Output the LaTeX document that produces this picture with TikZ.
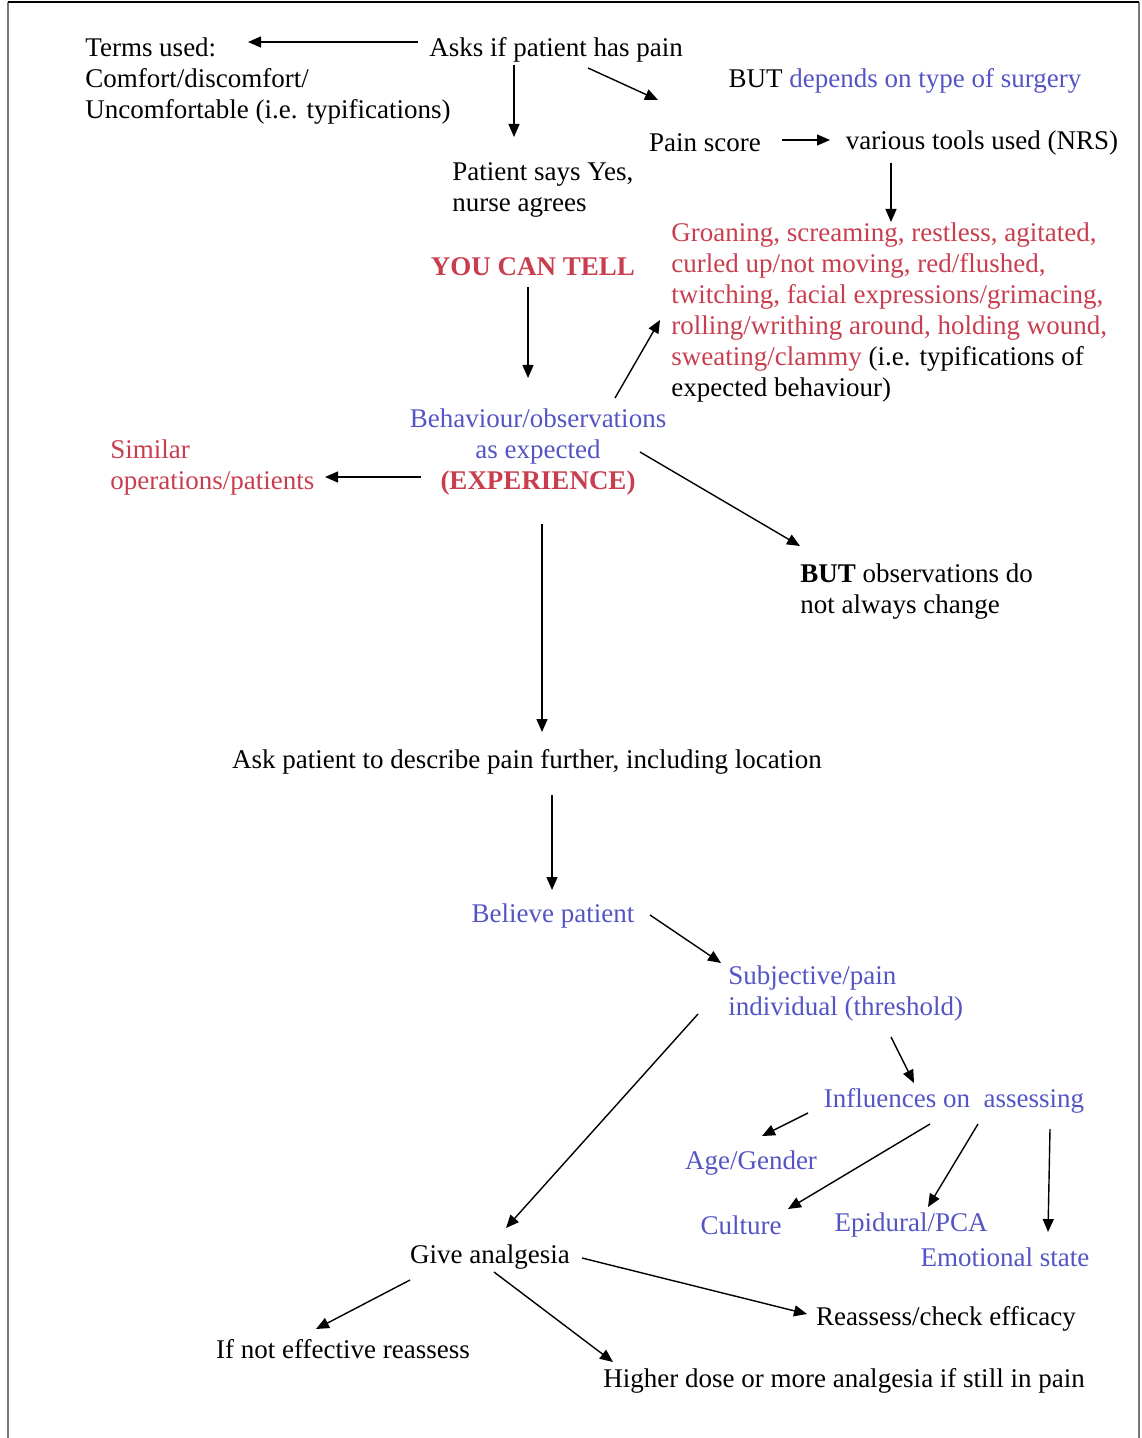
\documentclass[tikz,border=0pt]{standalone}
\usepackage{fontspec}
\setmainfont{Liberation Serif}
\usetikzlibrary{calc,arrows.meta}
\definecolor{noteBlue}{RGB}{84,84,196}
\definecolor{noteRed}{RGB}{200,62,78}
\definecolor{frameGrey}{RGB}{120,120,120}
\tikzset{
  txt/.style={inner sep=0pt,font=\fontsize{13.5}{15.5}\selectfont},
  bluetxt/.style={txt,text=noteBlue},
  redtxt/.style={txt,text=noteRed},
  arr/.style={line width=0.7pt,-{Triangle[length=6.5pt,width=5.5pt]}}
}
\begin{document}
\begin{tikzpicture}[x=0.5pt,y=-0.5pt]
\useasboundingbox (0,0) rectangle (1141,1438);
\draw[frameGrey,line width=1pt] (8,1438) -- (8,2);
\draw[frameGrey,line width=1pt] (1139,2) -- (1139,1438);
\draw[line width=1.1pt] (8,2) -- (1139,2);

\node[txt,align=left,anchor=west] (terms) at (85,81) {Terms used:\\Comfort/discomfort/\\Uncomfortable (i.e. typifications)};
\node[txt] (asks) at (556,50) {Asks if patient has pain};
\node[txt] (butsurg) at (905,81) {BUT {\color{noteBlue}depends on type of surgery}};
\node[txt] (painscore) at (705,143) {Pain score};
\node[txt] (tools) at (982,143) {various tools used (NRS)};
\node[txt,align=left,anchor=west] (says) at (452,190) {Patient says Yes,\\nurse agrees};
\node[redtxt,font=\fontsize{13.5}{15.5}\selectfont\bfseries] (tell) at (533,267) {YOU CAN TELL};
\node[redtxt,align=left,anchor=west] (groan) at (671,313) {Groaning, screaming, restless, agitated,\\curled up/not moving, red/flushed,\\twitching, facial expressions/grimacing,\\rolling/writhing around, holding wound,\\sweating/clammy {\color{black}(i.e. typifications of}\\{\color{black}expected behaviour)}};
\node[bluetxt,align=center] (behav) at (538,452) {Behaviour/observations\\as expected\\{\color{noteRed}\bfseries(EXPERIENCE)}};
\node[redtxt,align=left,anchor=west] (similar) at (110,468) {Similar\\operations/patients};
\node[txt,align=left,anchor=west] (butobs) at (800,592) {\textbf{BUT} observations do\\not always change};
\node[txt] (describe) at (527,762) {Ask patient to describe pain further, including location};
\node[bluetxt] (believe) at (553,916) {Believe patient};
\node[bluetxt,align=left,anchor=west] (subj) at (728,993) {Subjective/pain\\individual (threshold)};
\node[bluetxt] (infl) at (954,1101) {Influences on~ assessing};
\node[bluetxt] (agegen) at (751,1163) {Age/Gender};
\node[bluetxt] (culture) at (741,1225) {Culture};
\node[bluetxt] (epid) at (911,1225) {Epidural/PCA};
\node[bluetxt] (emot) at (1005,1257) {Emotional state};
\node[txt] (give) at (490,1257) {Give analgesia};
\node[txt] (reassess) at (946,1319) {Reassess/check efficacy};
\node[txt] (noteff) at (343,1349) {If not effective reassess};
\node[txt] (higher) at (844,1381) {Higher dose or more analgesia if still in pain};

\draw[arr] ($(asks)+(-138,-8)$) -- ($(terms.west)+(163,-39)$);
\draw[arr] ($(asks)+(-42,15)$) -- ($(says.west)+(62,-53)$);
\draw[arr] ($(asks)+(32,18)$) -- ($(butsurg)+(-247,19)$);
\draw[arr] ($(painscore)+(77,-3)$) -- ($(tools)+(-152,-3)$);
\draw[arr] ($(tools)+(-91,20)$) -- ($(groan.west)+(220,-91)$);
\draw[arr] ($(tell)+(-5,20)$) -- ($(behav)+(-10,-74)$);
\draw[arr] ($(behav)+(77,-54)$) -- ($(groan.west)+(-11,7)$);
\draw[arr] ($(behav)+(-117,25)$) -- ($(similar.west)+(215,9)$);
\draw[arr] ($(behav)+(102,0)$) -- ($(butobs.west)+(0,-46)$);
\draw[arr] ($(behav)+(4,72)$) -- ($(describe)+(15,-30)$);
\draw[arr] ($(describe)+(25,33)$) -- ($(believe)+(-1,-26)$);
\draw[arr] ($(believe)+(97,-1)$) -- ($(subj.west)+(-7,-30)$);
\draw[arr] ($(subj.west)+(163,44)$) -- ($(infl)+(-40,-18)$);
\draw[arr] ($(subj.west)+(-30,21)$) -- ($(give)+(16,-29)$);
\draw[arr] ($(infl)+(-146,12)$) -- ($(agegen)+(11,-27)$);
\draw[arr] ($(infl)+(-24,23)$) -- ($(culture)+(47,-16)$);
\draw[arr] ($(infl)+(24,23)$) -- ($(epid)+(17,-18)$);
\draw[arr] ($(infl)+(96,28)$) -- ($(emot)+(43,-25)$);
\draw[arr] ($(give)+(92,1)$) -- ($(reassess)+(-139,-5)$);
\draw[arr] ($(give)+(-80,23)$) -- ($(noteff)+(-27,-20)$);
\draw[arr] ($(give)+(4,15)$) -- ($(higher)+(-231,-19)$);
\end{tikzpicture}
\end{document}
